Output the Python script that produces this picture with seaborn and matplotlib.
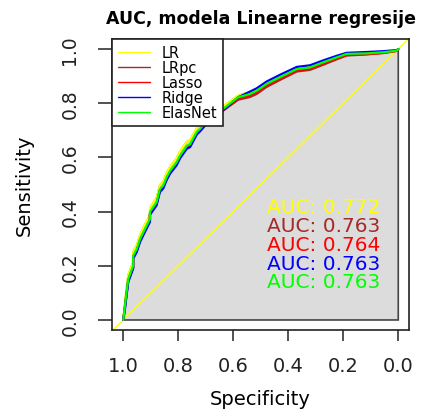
import matplotlib
matplotlib.use("Agg")
import matplotlib.pyplot as plt
import numpy as np
import pandas as pd
import seaborn as sns
from matplotlib.lines import Line2D

# ROC curves of the linear-regression model family
models = ["LR", "LRpc", "Lasso", "Ridge", "ElasNet"]
colors = ["#FFFF00", "#A52A2A", "#FF0000", "#0000FF", "#00FF00"]
auc_values = [0.772, 0.763, 0.764, 0.763, 0.763]

specificity = [1.000, 0.994, 0.988, 0.982, 0.964, 0.964, 0.951, 0.939, 0.927, 0.903,
               0.903, 0.879, 0.867, 0.855, 0.842, 0.830, 0.806, 0.794, 0.769, 0.757,
               0.733, 0.721, 0.697, 0.685, 0.582, 0.539, 0.515, 0.479, 0.430, 0.369,
               0.321, 0.273, 0.224, 0.188, 0.115, 0.055, 0.006, 0.000]

sens_lr = [0.000, 0.065, 0.118, 0.166, 0.214, 0.252, 0.276, 0.314, 0.340, 0.388,
           0.414, 0.450, 0.498, 0.511, 0.543, 0.565, 0.597, 0.622, 0.658, 0.664,
           0.708, 0.718, 0.748, 0.754, 0.828, 0.842, 0.853, 0.877, 0.901, 0.930,
           0.936, 0.955, 0.972, 0.984, 0.986, 0.989, 0.994, 1.000]
sens_lrpc = [0.000, 0.049, 0.098, 0.146, 0.195, 0.232, 0.257, 0.294, 0.319, 0.368,
             0.394, 0.429, 0.478, 0.491, 0.523, 0.545, 0.577, 0.601, 0.638, 0.644,
             0.689, 0.700, 0.730, 0.737, 0.813, 0.823, 0.834, 0.860, 0.886, 0.917,
             0.923, 0.942, 0.962, 0.976, 0.980, 0.985, 0.993, 1.000]
sens_lasso = [0.000, 0.047, 0.097, 0.145, 0.194, 0.231, 0.256, 0.293, 0.318, 0.367,
              0.393, 0.428, 0.477, 0.490, 0.522, 0.544, 0.576, 0.600, 0.637, 0.643,
              0.688, 0.699, 0.729, 0.736, 0.817, 0.829, 0.841, 0.866, 0.891, 0.921,
              0.927, 0.946, 0.965, 0.978, 0.981, 0.986, 0.993, 1.000]
sens_ridge = [0.000, 0.040, 0.090, 0.140, 0.190, 0.226, 0.251, 0.288, 0.313, 0.362,
              0.388, 0.423, 0.472, 0.485, 0.517, 0.540, 0.571, 0.596, 0.632, 0.638,
              0.684, 0.696, 0.724, 0.733, 0.822, 0.843, 0.855, 0.880, 0.905, 0.934,
              0.940, 0.958, 0.975, 0.986, 0.989, 0.992, 0.996, 1.000]
sens_elasnet = [0.000, 0.053, 0.103, 0.151, 0.200, 0.237, 0.262, 0.299, 0.324, 0.373,
                0.399, 0.434, 0.483, 0.496, 0.528, 0.550, 0.582, 0.606, 0.643, 0.649,
                0.694, 0.705, 0.735, 0.742, 0.822, 0.834, 0.846, 0.871, 0.896, 0.926,
                0.932, 0.951, 0.969, 0.982, 0.984, 0.988, 0.994, 1.000]

sensitivities = [sens_lr, sens_lrpc, sens_lasso, sens_ridge, sens_elasnet]

df = pd.concat(
    [pd.DataFrame({"model": m, "specificity": specificity, "sensitivity": s})
     for m, s in zip(models, sensitivities)],
    ignore_index=True,
)

sns.set_theme(style="white")
plt.rcParams["font.family"] = ["DejaVu Sans"]
plt.rcParams["text.color"] = "black"
plt.rcParams["axes.labelcolor"] = "black"
plt.rcParams["xtick.color"] = "#222222"
plt.rcParams["ytick.color"] = "#222222"

fig = plt.figure(figsize=(4.22, 4.14), dpi=100)
ax = fig.add_axes([112 / 422, 1 - 331 / 414, 297 / 422, 291 / 414])

# shaded area under the first curve
poly_x = list(specificity) + [0.0, 1.0]
poly_y = list(sens_lr) + [0.0, 0.0]
ax.fill(poly_x, poly_y, facecolor="gainsboro", edgecolor="#444444",
        linewidth=1.2, zorder=1)

# chance diagonal
ax.axline((1.0, 0.0), (0.0, 1.0), color="#FFFF00", linewidth=1.0, zorder=2)

sns.lineplot(data=df, x="specificity", y="sensitivity", hue="model",
             hue_order=models, palette=colors, estimator=None, sort=False,
             linewidth=1.6, legend=False, ax=ax, zorder=3)

ax.set_xlim(1.041, -0.039)
ax.set_ylim(-0.037, 1.037)
ticks = [0.0, 0.2, 0.4, 0.6, 0.8, 1.0]
ax.set_xticks(ticks)
ax.set_yticks(ticks)
ax.set_xticklabels([f"{t:.1f}" for t in ticks], fontsize=14)
ax.set_yticklabels([f"{t:.1f}" for t in ticks], fontsize=13.5,
                   rotation=90, va="center", ha="right")
ax.tick_params(axis="x", direction="out", length=8, width=1.1, pad=11,
               bottom=True)
ax.tick_params(axis="y", direction="out", length=10, width=1.1, pad=13.5,
               left=True)

for sp in ax.spines.values():
    sp.set_color("#222222")
    sp.set_linewidth(1.2)

ax.set_xlabel("Specificity", fontsize=14)
ax.set_ylabel("Sensitivity", fontsize=14)
ax.xaxis.set_label_coords(0.5, -0.203)
ax.yaxis.set_label_coords(-0.265, 0.5)
ax.xaxis.label.set_va("top")

ax.set_title("AUC, modela Linearne regresije", fontsize=12.5,
             fontweight="bold", pad=11.5)

# AUC values printed in each curve's colour
for i, (a, c) in enumerate(zip(auc_values, colors)):
    ax.text(0.272, 0.417 - 0.069 * i, f"AUC: {a:.3f}", color=c,
            fontsize=14.5, ha="center", va="center", zorder=4)

handles = [Line2D([0], [0], color=c, linewidth=1.0) for c in colors]
leg = ax.legend(handles, models, loc="upper left", bbox_to_anchor=(0, 1),
                borderaxespad=0, frameon=True, fancybox=False,
                edgecolor="#222222", framealpha=1, fontsize=10.5,
                labelspacing=0.0, handlelength=2.2, handletextpad=0.8,
                borderpad=0.4)
leg.get_frame().set_linewidth(1.2)
leg.set_zorder(5)

fig.savefig("out.png", dpi=100, facecolor="white")
